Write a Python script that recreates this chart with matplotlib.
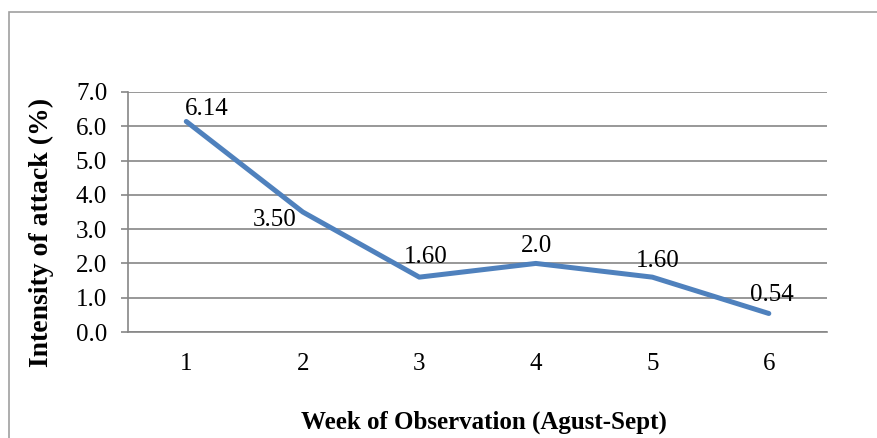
import matplotlib
matplotlib.use('Agg')
import matplotlib.pyplot as plt
from matplotlib.patches import Rectangle

plt.rcParams['font.family'] = ['Liberation Serif', 'DejaVu Serif']

# data
weeks = ['1', '2', '3', '4', '5', '6']
intensity = [6.14, 3.50, 1.60, 2.0, 1.60, 0.54]
point_labels = ['6.14', '3.50', '1.60', '2.0', '1.60', '0.54']
y_ticks = [0.0, 1.0, 2.0, 3.0, 4.0, 5.0, 6.0, 7.0]

# label offsets in pixels (dx, dy) from the point to the label baseline
label_offsets = [(20, 6), (-28, -14), (6, 14), (1, 11), (5, 10), (3, 12)]

fig = plt.figure(figsize=(8.78, 4.38), dpi=100)
ax = fig.add_axes([0.1458, 0.242, 0.7962, 0.548])

# outer chart frame, only left and top edges visible
fig.patches.append(Rectangle((0.0103, -0.1), 1.2, 1.072, transform=fig.transFigure,
                             fill=False, edgecolor='#a0a0a0', linewidth=1.2))

x = list(range(1, len(weeks) + 1))
ax.plot(x, intensity, color='#4f81bd', linewidth=3.6, solid_capstyle='round', zorder=3)

for xi, yi, lab, off in zip(x, intensity, point_labels, label_offsets):
    ax.annotate(lab, (xi, yi), xytext=off, textcoords='offset pixels',
                ha='center', va='baseline', fontsize=18, zorder=4)

ax.set_xlim(0.5, 6.5)
ax.set_ylim(0, 7.0)
ax.set_xticks(x)
ax.set_xticklabels(weeks, fontsize=18)
ax.set_yticks(y_ticks)
ax.set_yticklabels([f'{v:.1f}' for v in y_ticks], fontsize=18)
ax.tick_params(axis='x', length=0, pad=15)
ax.tick_params(axis='y', length=5, width=1.2, color='#868686', pad=10)

ax.grid(axis='y', color='#868686', linewidth=1.2)
ax.set_axisbelow(True)
for side in ['top', 'right']:
    ax.spines[side].set_visible(False)
for side in ['left', 'bottom']:
    ax.spines[side].set_color('#868686')
    ax.spines[side].set_linewidth(1.2)

fig.text(0.0467, 0.470, 'Intensity of attack (%)', rotation=90, ha='center', va='center',
         fontsize=20, fontweight='bold')
fig.text(0.551, 0.035, 'Week of Observation (Agust-Sept)', ha='center', va='center',
         fontsize=18, fontweight='bold')

fig.savefig('out.png', dpi=100)
